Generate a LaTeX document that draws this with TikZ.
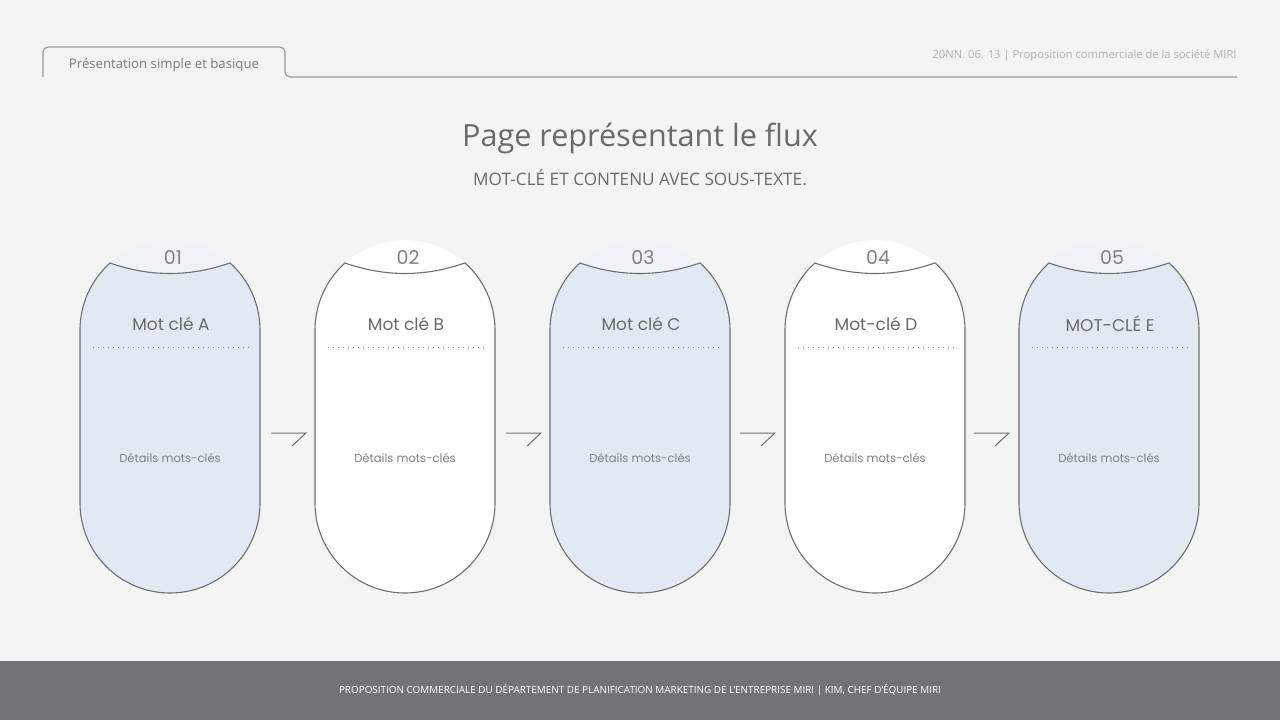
\documentclass[tikz,border=0pt]{standalone}
\usepackage{fontspec}
\setmainfont{Open Sans}
\newfontfamily\cardfont{Poppins}
\usetikzlibrary{positioning}

\definecolor{pagebg}{HTML}{F4F4F5}
\definecolor{cardblue}{HTML}{E2E9F2}
\definecolor{edgegray}{HTML}{6E6E70}
\definecolor{textgray}{HTML}{6A6A6C}
\definecolor{linegray}{HTML}{9C9C9E}
\definecolor{footgray}{HTML}{737275}

\begin{document}
\begin{tikzpicture}
[x = 0.5pt, y = 0.5pt, 
card/.style = {draw = edgegray, line width = 0.55pt}, 
numlabel/.style = {font = \cardfont\fontsize{9.5}{11}\selectfont, text = textgray!85}, 
keyword/.style = {font = \cardfont\fontsize{8.5}{10}\selectfont, text = textgray}, 
detail/.style = {font = \cardfont\fontsize{5.8}{7}\selectfont, text = textgray!85}, 
dotline/.style = {draw = textgray!80, line width = 0.5pt, dotted}, 
flowarrow/.style = {draw = edgegray, line width = 0.5pt}, 
headline/.style = {draw = linegray, line width = 0.6pt, rounded corners = 2.5pt}]

\useasboundingbox (0, 0) rectangle (1280, 720);
\fill[pagebg] (0, 0) rectangle (1280, 720);

% header
\draw[headline] (43, 643) -- (43, 673) -- (285, 673) -- (285, 643) -- (1237, 643);
\node[font = \fontsize{6.6}{8}\selectfont, text = textgray!90] (tab) at (164, 655) {Présentation simple et basique};
\node[font = \fontsize{5.6}{7}\selectfont, text = linegray!80, anchor = east, inner sep = 0pt] (date) at (1237, 664) {20NN. 06. 13 | Proposition commerciale de la société MIRI};

% title
\node[font = \fontsize{15.3}{18}\selectfont, text = textgray] (title) at (640, 582) {Page représentant le flux};
\node[font = \fontsize{8.6}{10}\selectfont, text = textgray] (subtitle) [below = 1pt of title] {MOT-CLÉ ET CONTENU AVEC SOUS-TEXTE.};

% cards
\foreach \i/\cx/\lab/\fc in {1/170/Mot clé A/cardblue, 2/405/Mot clé B/white, 3/640/Mot clé C/cardblue, 4/875/Mot-clé D/white, 5/1109/MOT-CLÉ E/cardblue}
{
\fill[\fc!55!white] (\cx+60, 457) arc[start angle = 48.2, end angle = 131.8, radius = 90] .. controls (\cx-20, 443) and (\cx+20, 443) .. cycle;
\draw[card, fill = \fc] (\cx-60, 457) arc[start angle = 131.8, end angle = 180, radius = 90] -- (\cx-90, 217) arc[start angle = 180, end angle = 360, radius = 90] -- (\cx+90, 390) arc[start angle = 0, end angle = 48.2, radius = 90] .. controls (\cx+20, 443) and (\cx-20, 443) .. cycle;
\node[numlabel] (num\i) at (\cx+3, 462) {0\i};
\node[keyword] (key\i) at (\cx+1, 396) {\lab};
\draw[dotline] (\cx-77, 373) -- (\cx+83, 373);
\node[detail] (det\i) at (\cx, 262) {Détails mots-clés};
}

% arrows
\foreach \g in {288, 523, 757, 991}
\draw[flowarrow] (\g-17, 287) -- (\g+18, 287) -- (\g+4, 274);

% footer
\fill[footgray] (0, 0) rectangle (1280, 59);
\node[font = \fontsize{4.95}{6}\selectfont, text = white] (foot) at (640, 30) {PROPOSITION COMMERCIALE DU DÉPARTEMENT DE PLANIFICATION MARKETING DE L'ENTREPRISE MIRI | KIM, CHEF D'ÉQUIPE MIRI};
\end{tikzpicture}
\end{document}
